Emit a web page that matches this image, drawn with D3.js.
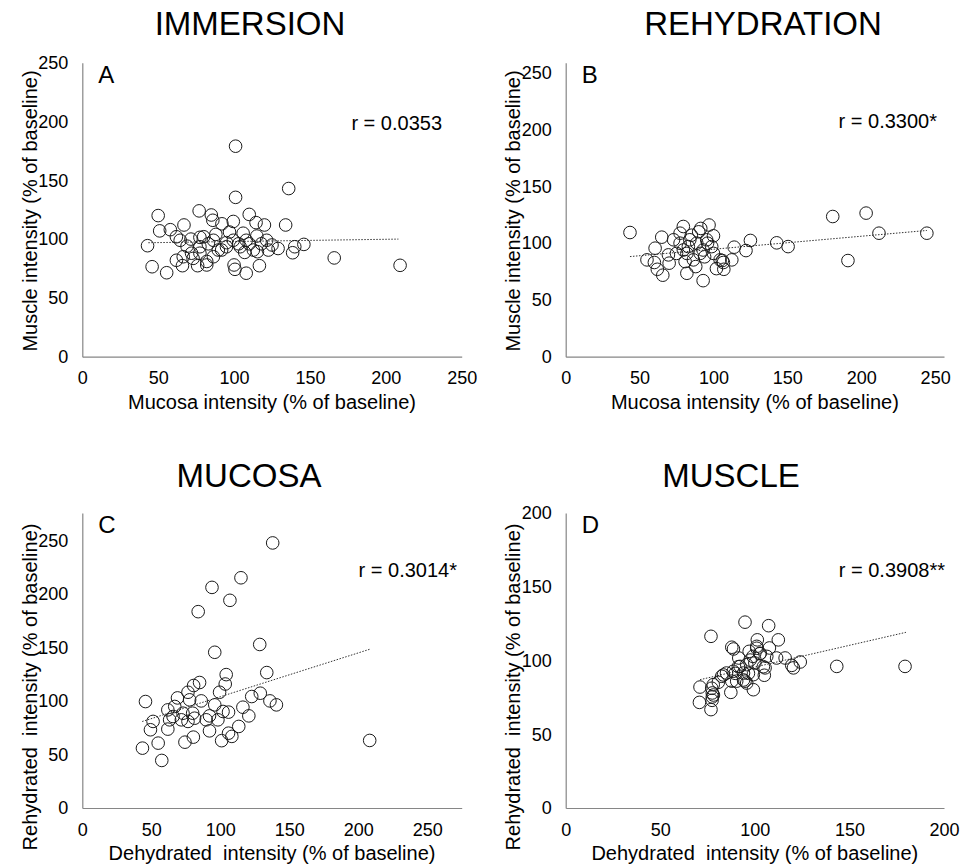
<!DOCTYPE html>
<html>
<head>
<meta charset="utf-8">
<script src="https://cdn.jsdelivr.net/npm/d3@7"></script>
<style>
  body { margin: 0; background: #fff; }
  svg text { font-family: "Liberation Sans", Arial, sans-serif; fill: #000; }
</style>
</head>
<body>
<svg id="chart" width="969" height="865"></svg>
<script>
// ---- chart values ----
const panelTitles = ["IMMERSION", "REHYDRATION", "MUCOSA", "MUSCLE"];
const panelLetters = ["A", "B", "C", "D"];
const rLabels = ["r = 0.0353", "r = 0.3300*", "r = 0.3014*", "r = 0.3908**"];
const xTitles = [
    "Mucosa intensity (% of baseline)",
    "Mucosa intensity (% of baseline)",
    "Dehydrated  intensity (% of baseline)",
    "Dehydrated  intensity (% of baseline)"
];
const yTitles = [
    "Muscle intensity (% of baseline)",
    "Muscle intensity (% of baseline)",
    "Rehydrated  intensity (% of baseline)",
    "Rehydrated  intensity (% of baseline)"
];
const ticks250 = [0, 50, 100, 150, 200, 250];
const ticks200 = [0, 50, 100, 150, 200];

// [x, y] pairs per panel
const immersionPoints = [
    [101, 179], [136, 143], [101, 135.5], [50, 120], [77, 124], [85, 120.5], [110, 121],
    [134, 112], [120, 112], [114.5, 114], [67, 112], [51, 107], [58, 108], [86, 116],
    [92, 113], [99.5, 115], [62, 102], [64.5, 99], [71.6, 100], [77.5, 101.5], [80, 102],
    [97, 106], [106, 105], [115, 102.6], [121.5, 99], [43, 94.4], [69, 94], [77.5, 93.5],
    [86.4, 99], [99.5, 99], [108, 99], [89.6, 90.7], [95, 93.5], [104, 93.5], [112.7, 90.7],
    [122.6, 90.7], [129, 92], [140, 93.5], [146, 95.5], [138.6, 88.4], [62, 82], [66.5, 85],
    [73, 83.6], [77.5, 88], [82, 81], [86.4, 85], [91.8, 90.7], [107, 88.7], [115.4, 89.3],
    [66, 77.4], [46, 76.5], [55.6, 71.4], [76, 77.4], [82, 78], [100, 78], [100.6, 74.3],
    [116.7, 77.4], [108, 71], [166, 84], [209.4, 77.7], [95, 97], [103, 96], [88, 104],
    [83, 96], [72, 88], [110, 96], [118, 96], [125, 95]
];
const rehydrationPoints = [
    [43.5, 109.4], [180.7, 123.5], [203.3, 126.5], [212, 108.8], [244.4, 108.8], [191, 84.7],
    [142.8, 100.3], [150.5, 97], [125, 102.4], [114, 96.5], [122, 93.5], [112.4, 85.3],
    [106, 84.7], [107, 77], [102, 77.6], [97, 116], [100, 106.5], [91.4, 113], [79.6, 114.7],
    [77.4, 108.8], [73, 103], [65, 105.3], [60.5, 95.6], [55, 85.3], [60, 83], [62, 77],
    [65.7, 71.8], [70, 82.4], [69.5, 89.7], [82, 91], [84, 103], [83, 97], [88.7, 100],
    [91, 91], [86.4, 85.3], [80.8, 83.8], [88, 79.4], [82, 73.5], [93, 67], [94, 88],
    [95.4, 103], [98.8, 97], [100, 91], [93, 94], [77.4, 100], [79.6, 94], [75, 91],
    [104.5, 85.3], [106.7, 83], [90, 110], [96, 100], [85, 107]
];
const mucosaPoints = [
    [138, 248], [115, 215.4], [94, 206.4], [107, 194.3], [84, 183.7], [128.6, 153], [96, 145.7],
    [133.7, 126.7], [104.3, 124.8], [103.6, 116], [85, 117.4], [80.7, 114.6], [99.5, 108.3],
    [76.6, 108.3], [129, 107.4], [122.8, 104.3], [136, 100.2], [140.7, 96.5], [45.8, 99.6],
    [69, 103], [77.8, 101.2], [86.2, 100.2], [96, 96.5], [116.4, 94.3], [62, 91.8], [67, 95],
    [73, 88.7], [80, 88.7], [89.8, 82.5], [92.2, 86.2], [98.3, 82.5], [102, 90.3], [106, 89.7],
    [63.3, 82.5], [65.8, 85.6], [71.8, 82.5], [76.6, 81], [81.4, 84], [120.7, 86.2], [51.3, 81],
    [49.4, 73.2], [62, 73.8], [92.2, 72.2], [113.4, 76.3], [106, 70], [108.4, 67], [80.5, 66.3],
    [74.4, 61.6], [101, 63], [55, 60.7], [43.6, 56], [57.6, 44.5], [208.3, 63.2]
];
const musclePoints = [
    [94.8, 126], [107.3, 123.6], [76.8, 116.4], [101.3, 114], [112.4, 114], [87.8, 109],
    [88.7, 107.8], [101, 109.6], [107.7, 108.5], [97, 106.2], [91.5, 101.7], [99, 102.8],
    [102.7, 104.6], [106.3, 102.8], [111.5, 101.7], [116, 101.7], [124, 99], [120.4, 95],
    [119.5, 96.7], [143.3, 96], [179.4, 96], [92.2, 96], [95.7, 97.2], [100, 98.3], [105.4, 95],
    [88.6, 92.7], [94, 91.5], [99.2, 90.4], [105, 90], [90.4, 86], [94.8, 86], [95.7, 84.7],
    [87.8, 86], [82.5, 89.3], [80.7, 85.2], [78, 83.6], [71, 82], [87.3, 78.4], [99.2, 80.2],
    [77.5, 78], [77.5, 75.3], [77.4, 73], [70.7, 71.6], [76.8, 66.7], [85, 91.5],
    [97.5, 100.3], [104.5, 95.8], [96.6, 91.3], [89.6, 91.3], [94, 86.8], [83.4, 90.2],
    [77.2, 81.2], [78.1, 76.6], [101, 108.3], [102.8, 104.9], [91.3, 95.8]
];

// trendline end points as drawn in the figure
const immersionTrend = [[43.5, 96.9], [208.3, 100]];
const rehydrationTrend = [[43.5, 88.2], [244.4, 111.2]];
const mucosaTrend = [[43.4, 80.9], [208.3, 148.5]];
const muscleTrend = [[71, 87], [179.9, 119.1]];

// ---- layout (pixels) ----
const layout = [
    {left: 82.3, right: 461.7, top: 62.7, bottom: 356.7, xMax: 250, yMax: 250, ticksX: ticks250, ticksY: ticks250,
     titleX: 250, titleY: 35, rX: 442, rY: 130, yTitleY: 211},
    {left: 565.7, right: 944, top: 62.7, bottom: 356.7, xMax: 256, yMax: 259, ticksX: ticks250, ticksY: ticks250,
     titleX: 763, titleY: 35, rX: 937, rY: 128, yTitleY: 211},
    {left: 82.3, right: 461.7, top: 513, bottom: 808, xMax: 275, yMax: 276, ticksX: ticks250, ticksY: ticks250,
     titleX: 249, titleY: 487, rX: 457, rY: 577, yTitleY: 687},
    {left: 565.7, right: 944, top: 513, bottom: 808, xMax: 200, yMax: 200, ticksX: ticks200, ticksY: ticks200,
     titleX: 731, titleY: 487, rX: 945, rY: 577, yTitleY: 687}
];
const pointSets = [immersionPoints, rehydrationPoints, mucosaPoints, musclePoints];
const trendSets = [immersionTrend, rehydrationTrend, mucosaTrend, muscleTrend];

const axisColor = "#868686";
const svg = d3.select("#chart");

layout.forEach((p, i) => {
    const x = d3.scaleLinear().domain([0, p.xMax]).range([p.left, p.right]);
    const y = d3.scaleLinear().domain([0, p.yMax]).range([p.bottom, p.top]);
    const g = svg.append("g");

    // axes
    const xAxis = g.append("g")
        .attr("transform", `translate(0,${p.bottom})`)
        .call(d3.axisBottom(x).tickValues(p.ticksX).tickSize(0).tickSizeOuter(0).tickPadding(15));
    const yAxis = g.append("g")
        .attr("transform", `translate(${p.left},0)`)
        .call(d3.axisLeft(y).tickValues(p.ticksY).tickSize(0).tickSizeOuter(0).tickPadding(14));

    [xAxis, yAxis].forEach(a => {
        a.select(".domain").attr("stroke", axisColor).attr("stroke-width", 1.2);
        a.selectAll("text").attr("font-size", 18).attr("fill", "#000")
            .attr("font-family", "'Liberation Sans', Arial, sans-serif");
    });

    // trendline
    g.append("path")
        .datum(trendSets[i])
        .attr("fill", "none")
        .attr("stroke", "#333")
        .attr("stroke-width", 1)
        .attr("stroke-dasharray", "1.5,1.5")
        .attr("d", d3.line().x(d => x(d[0])).y(d => y(d[1])));

    // points
    g.selectAll("circle")
        .data(pointSets[i])
        .join("circle")
        .attr("cx", d => x(d[0]))
        .attr("cy", d => y(d[1]))
        .attr("r", 6.3)
        .attr("fill", "none")
        .attr("stroke", "#1a1a1a")
        .attr("stroke-width", 1);

    // texts
    g.append("text")
        .attr("x", p.titleX).attr("y", p.titleY)
        .attr("text-anchor", "middle").attr("font-size", 33)
        .text(panelTitles[i]);

    g.append("text")
        .attr("x", p.left + 16).attr("y", p.top + 20)
        .attr("font-size", 24)
        .text(panelLetters[i]);

    g.append("text")
        .attr("x", p.rX).attr("y", p.rY)
        .attr("text-anchor", "end").attr("font-size", 20)
        .text(rLabels[i]);

    g.append("text")
        .attr("x", (p.left + p.right) / 2).attr("y", p.bottom + 52)
        .attr("text-anchor", "middle").attr("font-size", 20)
        .style("white-space", "pre")
        .text(xTitles[i]);

    g.append("text")
        .attr("transform", `translate(${p.left - 45.3},${p.yTitleY}) rotate(-90)`)
        .attr("text-anchor", "middle").attr("font-size", 20)
        .style("white-space", "pre")
        .text(yTitles[i]);
});
</script>
</body>
</html>
